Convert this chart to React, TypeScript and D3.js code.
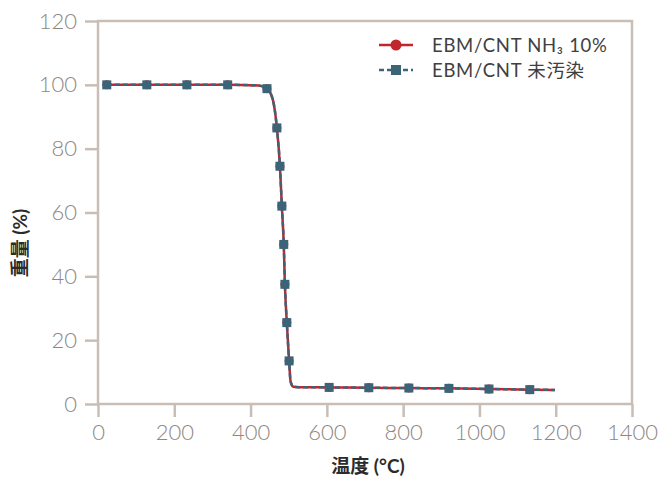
import React, { useEffect, useRef } from 'react'
import * as d3 from 'd3'

// marker positions (temperature °C / weight %)
const markerTemp = [23, 128, 233, 340, 443, 469, 477, 482, 487, 490, 495, 501, 606, 710, 815, 920, 1025, 1132]
const markerNH3 = [100, 100, 100, 100, 98.8, 86.5, 74.5, 62, 50, 37.5, 25.5, 13.5, 5.2, 5.1, 5.0, 4.9, 4.7, 4.5]
const markerClean = [100, 100, 100, 100, 98.8, 86.5, 74.5, 62, 50, 37.5, 25.5, 13.5, 5.2, 5.1, 5.0, 4.9, 4.7, 4.5]

// curve
const lineTemp = [23, 128, 233, 340, 420, 443, 458, 469, 477, 482, 487, 490, 495, 501, 505, 512, 530, 606, 710, 815, 920, 1025, 1132, 1198]
const lineNH3 = [100, 100, 100, 100, 99.8, 98.8, 95.5, 86.5, 74.5, 62, 50, 37.5, 25.5, 13.5, 7, 5.4, 5.25, 5.2, 5.1, 5.0, 4.9, 4.7, 4.5, 4.4]
const lineClean = [100, 100, 100, 100, 99.8, 98.8, 95.5, 86.5, 74.5, 62, 50, 37.5, 25.5, 13.5, 7, 5.4, 5.25, 5.2, 5.1, 5.0, 4.9, 4.7, 4.5, 4.4]

const xTicks = [0, 200, 400, 600, 800, 1000, 1200, 1400]
const yTicks = [0, 20, 40, 60, 80, 100, 120]
const seriesNames = ['EBM/CNT NH₃ 10%', 'EBM/CNT 未汚染']

const RED = '#c1272d'
const BLUE = '#3c6478'
const FRAME = '#c9beb6'
const FONT = "Lato, 'Noto Sans CJK JP', sans-serif"

export default function App() {
  const ref = useRef<SVGSVGElement>(null)

  useEffect(() => {
    const svg = d3.select(ref.current)
    svg.selectAll('*').remove()

    const x = d3.scaleLinear().domain([0, 1400]).range([98, 632])
    const y = d3.scaleLinear().domain([0, 120]).range([404, 21])

    // frame
    svg.append('rect')
      .attr('x', x(0)).attr('y', y(120))
      .attr('width', x(1400) - x(0)).attr('height', y(0) - y(120))
      .attr('fill', 'none').attr('stroke', FRAME).attr('stroke-width', 2.5)

    const xAxis = svg.append('g')
      .attr('transform', `translate(0,${y(0)})`)
      .call(d3.axisBottom(x).tickValues(xTicks).tickFormat(d3.format('d')).tickSize(13).tickSizeOuter(0).tickPadding(7))
    const yAxis = svg.append('g')
      .attr('transform', `translate(${x(0)},0)`)
      .call(d3.axisLeft(y).tickValues(yTicks).tickFormat(d3.format('d')).tickSize(13).tickSizeOuter(0).tickPadding(8))

    for (const ax of [xAxis, yAxis]) {
      ax.select('.domain').remove()
      ax.selectAll('line').attr('stroke', FRAME).attr('stroke-width', 2.5)
      ax.selectAll('text')
        .attr('fill', '#8e8783')
        .style('font-family', FONT)
        .style('font-weight', 300)
        .style('font-size', '22px')
    }

    const lineGen = d3.line<number>()
      .x((d, i) => x(lineTemp[i]))
      .y(d => y(d))
      .curve(d3.curveMonotoneX)

    // NH3 series: red solid + circles
    svg.append('path')
      .attr('d', lineGen(lineNH3))
      .attr('fill', 'none').attr('stroke', RED).attr('stroke-width', 2.5)
    svg.selectAll('.c1')
      .data(markerNH3)
      .enter()
      .append('circle')
      .attr('cx', (d, i) => x(markerTemp[i]))
      .attr('cy', d => y(d))
      .attr('r', 4.5)
      .attr('fill', RED)

    // clean series: blue dashed + squares
    svg.append('path')
      .attr('d', lineGen(lineClean))
      .attr('fill', 'none').attr('stroke', BLUE).attr('stroke-width', 2.5)
      .attr('stroke-dasharray', '5,3')
    svg.selectAll('.s1')
      .data(markerClean)
      .enter()
      .append('rect')
      .attr('x', (d, i) => x(markerTemp[i]) - 4.5)
      .attr('y', d => y(d) - 4.5)
      .attr('width', 9).attr('height', 9)
      .attr('fill', BLUE)

    // legend
    const lg = svg.append('g').attr('transform', 'translate(379,45)')
    lg.append('line').attr('x1', 0).attr('x2', 34).attr('y1', 0).attr('y2', 0)
      .attr('stroke', RED).attr('stroke-width', 2.5)
    lg.append('circle').attr('cx', 17).attr('cy', 0).attr('r', 5.5).attr('fill', RED)
    lg.append('line').attr('x1', 0).attr('x2', 34).attr('y1', 25).attr('y2', 25)
      .attr('stroke', BLUE).attr('stroke-width', 2.5).attr('stroke-dasharray', '5,3')
    lg.append('rect').attr('x', 12).attr('y', 20).attr('width', 10).attr('height', 10).attr('fill', BLUE)
    lg.selectAll('.lt')
      .data(seriesNames)
      .enter()
      .append('text')
      .attr('x', 53)
      .attr('y', (d, i) => i * 25)
      .attr('dy', '0.36em')
      .attr('fill', '#404040')
      .style('font-family', FONT)
      .style('font-weight', 400)
      .style('font-size', '18.5px')
      .style('letter-spacing', '0.7px')
      .text(d => d)

    // axis titles
    svg.append('text')
      .attr('x', 368).attr('y', 473)
      .attr('text-anchor', 'middle')
      .attr('fill', '#2b2b2b')
      .style('font-family', FONT)
      .style('font-size', '19px')
      .style('font-weight', 'bold')
      .text('温度 (°C)')
    svg.append('text')
      .attr('transform', 'translate(27,243) rotate(-90)')
      .attr('text-anchor', 'middle')
      .attr('fill', '#2b2b2b')
      .style('font-family', FONT)
      .style('font-size', '19px')
      .style('font-weight', 'bold')
      .text('重量 (%)')
  }, [])

  return (
    <svg ref={ref} width={662} height={478}
      style={{ position: 'absolute', left: 0, top: 0, background: '#fff' }} />
  )
}
